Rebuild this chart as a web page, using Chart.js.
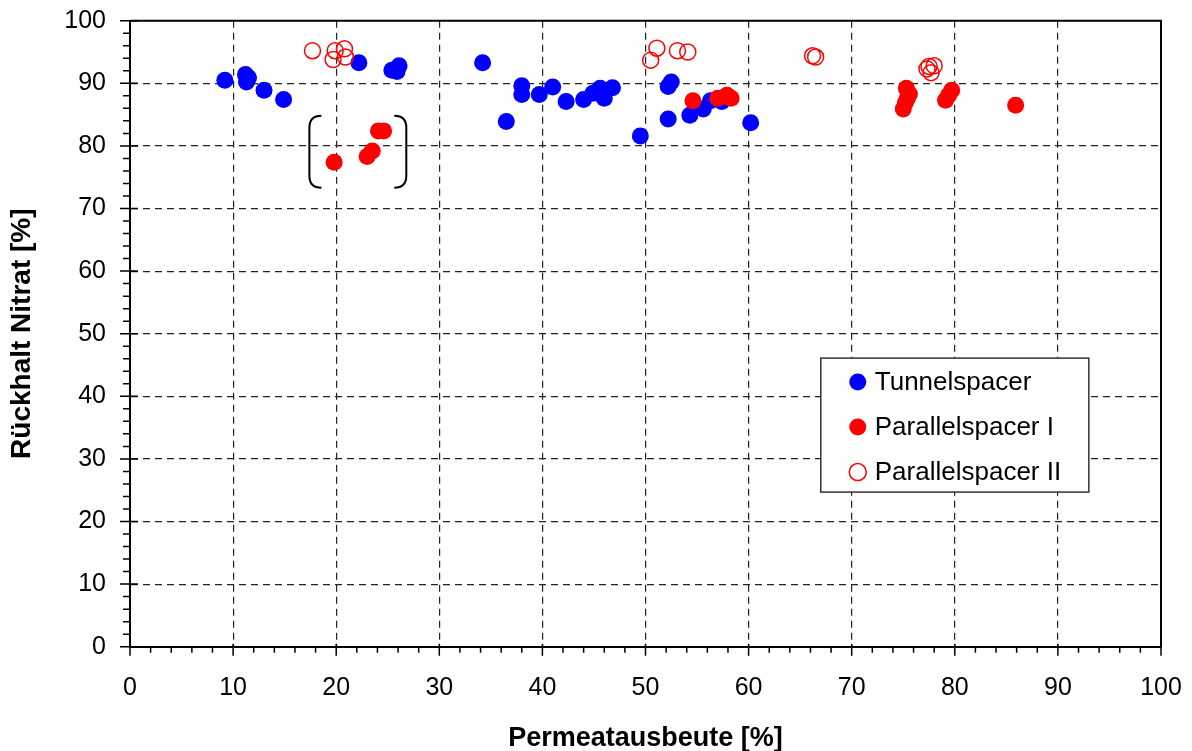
<!DOCTYPE html>
<html>
<head>
    <title>Rückhalt Nitrat</title>
    <script src="https://cdn.jsdelivr.net/npm/chart.js"></script>
    <style>
        body {
            margin: 0;
            padding: 0;
            background-color: #fff;
        }

        .chart-box {
            width: 1192px;
            height: 751px;
        }
    </style>
</head>
<body>
    <div class="chart-box">
        <canvas id="nitratChart"></canvas>
    </div>

    <script>
        // Values (x = Permeatausbeute %, y = Rückhalt %)
        var tunnelX = [9.2, 11.2, 11.5, 11.3, 13.0, 14.9, 22.2, 25.4, 26.1, 25.9,
                       34.2, 36.5, 38.0, 38.0, 39.7, 41.0, 42.3, 44.0, 44.9, 45.6,
                       46.0, 46.8, 49.5, 52.2, 52.5, 52.2, 54.3, 55.6, 56.3, 57.4, 60.2];
        var tunnelY = [90.5, 91.4, 90.9, 90.2, 88.9, 87.4, 93.3, 92.1, 92.8, 91.9,
                       93.3, 83.9, 89.6, 88.2, 88.2, 89.4, 87.1, 87.4, 88.4, 89.2,
                       87.6, 89.3, 81.6, 89.5, 90.2, 84.3, 84.9, 85.9, 87.2, 87.1, 83.7];

        var parallel1X = [19.8, 23.0, 23.5, 24.1, 24.6, 54.6, 57.0, 57.9, 58.3,
                          75.3, 75.6, 75.4, 75.2, 75.0, 79.7, 79.1, 79.4, 85.9];
        var parallel1Y = [77.4, 78.3, 79.2, 82.4, 82.4, 87.2, 87.6, 88.1, 87.6,
                          89.2, 88.3, 87.6, 86.9, 85.9, 88.9, 87.3, 88.1, 86.5];

        var parallel2X = [17.7, 19.7, 19.9, 20.8, 20.9, 50.5, 51.1, 53.1, 54.1,
                          66.2, 66.5, 77.3, 77.5, 78.0, 77.7];
        var parallel2Y = [95.2, 93.8, 95.2, 95.5, 94.2, 93.7, 95.6, 95.2, 95.0,
                          94.4, 94.2, 92.3, 92.7, 92.8, 91.7];

        var seriesNames = ['Tunnelspacer', 'Parallelspacer I', 'Parallelspacer II'];
        var xTitle = 'Permeatausbeute [%]';
        var yTitle = 'Rückhalt Nitrat [%]';

        var fontFamily = "'Liberation Sans', Arial, sans-serif";

        function toPoints(xs, ys) {
            var pts = [];
            for (var i = 0; i < xs.length; i++) {
                pts.push({ x: xs[i], y: ys[i] });
            }
            return pts;
        }

        // dashed grid only on the inner majors, 0 and 100 are axis / frame
        function gridColor(ctx) {
            var v = ctx.tick ? ctx.tick.value : 0;
            if (v === 0 || v === 100) return 'rgba(0,0,0,0)';
            return '#222';
        }

        // fixed axis sizes, and no extra room for the end labels
        function fixScale(size) {
            return function(scale) {
                if (scale.isHorizontal()) scale.height = size;
                else scale.width = size;
                scale.paddingTop = 0;
                scale.paddingBottom = 0;
                scale.paddingLeft = 0;
                scale.paddingRight = 0;
            };
        }

        // frame, minor/major tick marks and the bracket around the outliers
        var decorPlugin = {
            id: 'decor',
            afterDatasetsDraw: function(chart) {
                var ctx = chart.ctx;
                var a = chart.chartArea;
                var xs = chart.scales.x;
                var ys = chart.scales.y;
                ctx.save();
                ctx.strokeStyle = '#000';
                ctx.lineWidth = 2;
                // top and right frame lines
                ctx.beginPath();
                ctx.moveTo(a.left, a.top);
                ctx.lineTo(a.right, a.top);
                ctx.lineTo(a.right, a.bottom);
                ctx.stroke();

                ctx.lineWidth = 1.5;
                ctx.beginPath();
                for (var v = 0; v <= 100; v += 2) {
                    var major = v % 10 === 0;
                    var px = xs.getPixelForValue(v);
                    ctx.moveTo(px, a.bottom - (major ? 3 : 0));
                    ctx.lineTo(px, a.bottom + (major ? 9 : 6));
                    var py = ys.getPixelForValue(v);
                    ctx.moveTo(a.left + (major ? 8 : 0), py);
                    ctx.lineTo(a.left - (major ? 10 : 7), py);
                }
                ctx.stroke();

                // bracket marking the first Parallelspacer I runs
                var bl = xs.getPixelForValue(17.4);
                var br = xs.getPixelForValue(26.8);
                var bt = ys.getPixelForValue(84.8);
                var bb = ys.getPixelForValue(73.3);
                var r = 12;
                ctx.lineWidth = 2;
                ctx.beginPath();
                ctx.moveTo(bl + r, bt);
                ctx.quadraticCurveTo(bl, bt, bl, bt + r);
                ctx.lineTo(bl, bb - r);
                ctx.quadraticCurveTo(bl, bb, bl + r, bb);
                ctx.moveTo(br - r, bt);
                ctx.quadraticCurveTo(br, bt, br, bt + r);
                ctx.lineTo(br, bb - r);
                ctx.quadraticCurveTo(br, bb, br - r, bb);
                ctx.stroke();
                ctx.restore();
            }
        };

        // boxed legend inside the plot, lower right
        var boxLegendPlugin = {
            id: 'boxLegend',
            afterDraw: function(chart) {
                var ctx = chart.ctx;
                var xs = chart.scales.x;
                var ys = chart.scales.y;
                var left = xs.getPixelForValue(67);
                var right = xs.getPixelForValue(93);
                var top = ys.getPixelForValue(46.1);
                var bottom = ys.getPixelForValue(24.7);
                ctx.save();
                ctx.fillStyle = '#fff';
                ctx.fillRect(left, top, right - left, bottom - top);
                ctx.strokeStyle = '#333';
                ctx.lineWidth = 1.5;
                ctx.strokeRect(left, top, right - left, bottom - top);

                ctx.font = '26px ' + fontFamily;
                ctx.textBaseline = 'middle';
                ctx.textAlign = 'left';
                chart.data.datasets.forEach(function(ds, i) {
                    var cy = top + 24 + i * 45;
                    ctx.beginPath();
                    ctx.arc(left + 37, cy, 8.5, 0, Math.PI * 2);
                    if (ds.backgroundColor !== 'rgba(0,0,0,0)') {
                        ctx.fillStyle = ds.backgroundColor;
                        ctx.fill();
                    } else {
                        ctx.strokeStyle = ds.borderColor;
                        ctx.lineWidth = 1.5;
                        ctx.stroke();
                    }
                    ctx.fillStyle = '#000';
                    ctx.fillText(ds.label, left + 54, cy + 1);
                });
                ctx.restore();
            }
        };

        var chartCtx = document.getElementById('nitratChart').getContext('2d');

        var nitratChart = new Chart(chartCtx, {
            type: 'scatter',
            data: {
                datasets: [{
                    label: seriesNames[0],
                    data: toPoints(tunnelX, tunnelY),
                    backgroundColor: '#0000ff',
                    borderColor: '#0000ff',
                    borderWidth: 0,
                    pointRadius: 8.5,
                    order: 2
                }, {
                    label: seriesNames[1],
                    data: toPoints(parallel1X, parallel1Y),
                    backgroundColor: '#ff0000',
                    borderColor: '#ff0000',
                    borderWidth: 0,
                    pointRadius: 8.5,
                    order: 1
                }, {
                    label: seriesNames[2],
                    data: toPoints(parallel2X, parallel2Y),
                    backgroundColor: 'rgba(0,0,0,0)',
                    borderColor: '#ff0000',
                    borderWidth: 1.5,
                    pointRadius: 8,
                    order: 0
                }]
            },
            options: {
                responsive: true,
                maintainAspectRatio: false,
                animation: false,
                layout: {
                    padding: { top: 20.7, right: 31, left: 0, bottom: 0 }
                },
                plugins: {
                    legend: { display: false },
                    tooltip: { enabled: false }
                },
                scales: {
                    x: {
                        type: 'linear',
                        min: 0,
                        max: 100,
                        afterFit: fixScale(104.3),
                        ticks: {
                            stepSize: 10,
                            padding: 26,
                            color: '#000',
                            font: { family: fontFamily, size: 25 }
                        },
                        grid: {
                            color: gridColor,
                            lineWidth: 1.2,
                            drawTicks: false
                        },
                        border: {
                            display: true,
                            color: '#000',
                            width: 2,
                            dash: [7, 5]
                        },
                        title: {
                            display: true,
                            text: xTitle,
                            color: '#000',
                            font: { family: fontFamily, size: 27, weight: 'bold', lineHeight: 1 },
                            padding: { top: 0, bottom: -1 }
                        }
                    },
                    y: {
                        type: 'linear',
                        min: 0,
                        max: 100,
                        afterFit: fixScale(130),
                        ticks: {
                            stepSize: 10,
                            padding: 24,
                            color: '#000',
                            font: { family: fontFamily, size: 25 }
                        },
                        grid: {
                            color: gridColor,
                            lineWidth: 1.2,
                            drawTicks: false
                        },
                        border: {
                            display: true,
                            color: '#000',
                            width: 2,
                            dash: [7, 5]
                        },
                        title: {
                            display: true,
                            text: yTitle,
                            color: '#000',
                            font: { family: fontFamily, size: 28, weight: 'bold', lineHeight: 1.2 },
                            padding: { top: 5, bottom: 0 }
                        }
                    }
                }
            },
            plugins: [decorPlugin, boxLegendPlugin]
        });
    </script>
</body>
</html>
